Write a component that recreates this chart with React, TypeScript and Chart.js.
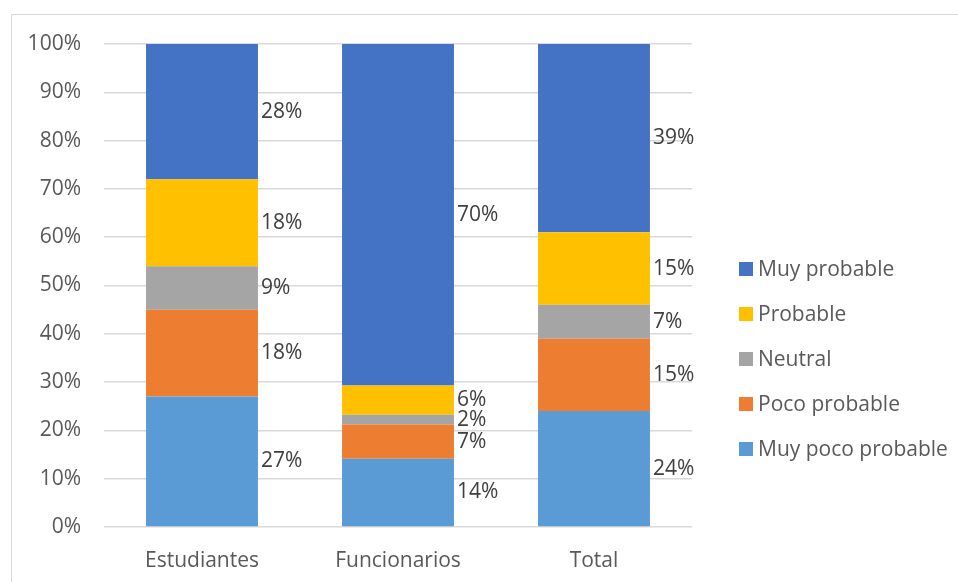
import React, { useEffect, useRef } from "react";
import { Chart, registerables } from "chart.js";

Chart.register(...registerables);

// Survey answers per group (percent, as labelled)
const categories = ["Estudiantes", "Funcionarios", "Total"];
const seriesNames = ["Muy poco probable", "Poco probable", "Neutral", "Probable", "Muy probable"];
const seriesColors = ["#5B9BD5", "#ED7D31", "#A5A5A5", "#FFC000", "#4472C4"];
const muyPocoProbable = [27, 14, 24];
const pocoProbable = [18, 7, 15];
const neutral = [9, 2, 7];
const probable = [18, 6, 15];
const muyProbable = [28, 70, 39];
const yTickStep = 10;
const yMax = 100;

const seriesValues = [muyPocoProbable, pocoProbable, neutral, probable, muyProbable];

const FONT = "'Open Sans', 'Noto Sans', sans-serif";
const FONT_SIZE = 21;
const TEXT_GREY = "#595959";
const LABEL_GREY = "#404040";

// Each column is shown as a share of its own total (100% stacked)
const totals = categories.map((_, i) => seriesValues.reduce((s, arr) => s + arr[i], 0));
const shares = seriesValues.map((arr) => arr.map((v, i) => (v / totals[i]) * 100));

// Value labels at the right side of every segment
const valueLabels = {
  id: "valueLabels",
  afterDatasetsDraw(chart: any) {
    const ctx = chart.ctx;
    ctx.save();
    ctx.font = `${FONT_SIZE}px ${FONT}`;
    ctx.fillStyle = LABEL_GREY;
    ctx.textAlign = "left";
    ctx.textBaseline = "middle";
    chart.data.datasets.forEach((_: any, di: number) => {
      const meta = chart.getDatasetMeta(di);
      meta.data.forEach((el: any, i: number) => {
        const p = el.getProps(["x", "y", "base", "width"], true);
        ctx.fillText(`${seriesValues[di][i]}%`, p.x + p.width / 2 + 3, (p.y + p.base) / 2);
      });
    });
    ctx.restore();
  },
};

// Legend on the right, top entry is the last (top) series
const sideLegend = {
  id: "sideLegend",
  afterDraw(chart: any) {
    const ctx = chart.ctx;
    const area = chart.chartArea;
    const x = area.right + 47;
    const y0 = area.top + 225;
    const gap = 45;
    ctx.save();
    ctx.font = `${FONT_SIZE}px ${FONT}`;
    ctx.textAlign = "left";
    ctx.textBaseline = "middle";
    const order = seriesNames.map((_, i) => i).reverse();
    order.forEach((si, row) => {
      const y = y0 + row * gap;
      ctx.fillStyle = seriesColors[si];
      ctx.fillRect(x, y - 7, 14, 14);
      ctx.fillStyle = TEXT_GREY;
      ctx.fillText(seriesNames[si], x + 19, y + 1);
    });
    ctx.restore();
  },
};

export default function App() {
  const canvasRef = useRef<HTMLCanvasElement | null>(null);

  useEffect(() => {
    if (!canvasRef.current) return;
    const chart = new Chart(canvasRef.current, {
      type: "bar",
      data: {
        labels: categories,
        datasets: seriesNames.map((name, i) => ({
          label: name,
          data: shares[i],
          backgroundColor: seriesColors[i],
          borderWidth: 0,
          categoryPercentage: 1,
          barPercentage: 0.571,
        })),
      },
      options: {
        responsive: false,
        animation: false,
        layout: { padding: { top: 44, right: 266, left: 0, bottom: 0 } },
        plugins: {
          legend: { display: false },
          tooltip: { enabled: false },
        },
        scales: {
          x: {
            stacked: true,
            grid: { display: false },
            border: { display: false },
            ticks: {
              color: TEXT_GREY,
              font: { family: FONT, size: FONT_SIZE },
              padding: 13,
            },
            afterFit: (scale: any) => {
              scale.height = 55;
            },
          },
          y: {
            stacked: true,
            min: 0,
            max: yMax,
            grid: { color: "#d9d9d9", lineWidth: 1.5, drawTicks: false },
            border: { display: false },
            ticks: {
              stepSize: yTickStep,
              color: TEXT_GREY,
              font: { family: FONT, size: FONT_SIZE },
              padding: 23,
              callback: (v: any) => `${v}%`,
            },
            afterFit: (scale: any) => {
              scale.width = 104;
            },
          },
        },
      },
      plugins: [valueLabels, sideLegend],
    });
    return () => chart.destroy();
  }, []);

  return (
    <div
      style={{
        position: "fixed",
        left: 0,
        top: 0,
        width: 958,
        height: 582,
        overflow: "hidden",
        background: "#ffffff",
      }}
    >
      <div
        style={{
          position: "absolute",
          left: 11,
          top: 14,
          width: 970,
          height: 620,
          border: "1.5px solid #d9d9d9",
        }}
      />
      <canvas
        ref={canvasRef}
        width={958}
        height={582}
        style={{ position: "absolute", left: 0, top: 0 }}
      />
    </div>
  );
}
